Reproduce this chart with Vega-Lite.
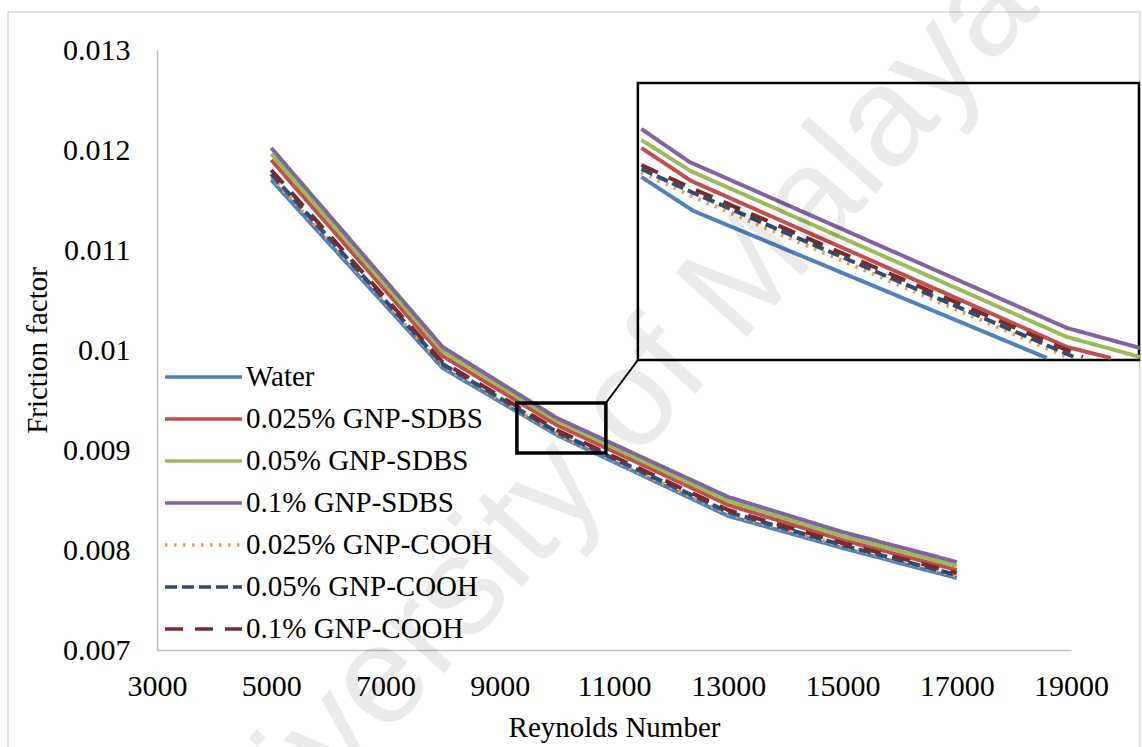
{
  "$schema": "https://vega.github.io/schema/vega-lite/v6.json",
  "width": 914,
  "height": 600,
  "autosize": {"type": "none"},
  "padding": {"left": 157, "top": 50, "right": 71, "bottom": 97},
  "background": "white",
  "config": {
    "view": {"stroke": null},
    "font": "Liberation Serif",
    "axis": {
      "grid": false, "ticks": false, "domainColor": "#bfbfbf", "domainWidth": 1.5, "labelFlush": false,
      "labelFont": "Liberation Serif", "labelFontSize": 30, "labelColor": "black",
      "titleFont": "Liberation Serif", "titleFontSize": 29, "titleFontWeight": "normal", "titleColor": "black"
    },
    "axisX": {"labelPadding": 21, "titlePadding": 12},
    "axisY": {"labelPadding": 27, "titlePadding": 10}
  },
  "datasets": {
    "main": [
      {"series": "Water", "Re": 5000, "f": 0.0117},
      {"series": "Water", "Re": 8000, "f": 0.00982},
      {"series": "Water", "Re": 10000, "f": 0.00915},
      {"series": "Water", "Re": 13000, "f": 0.00834},
      {"series": "Water", "Re": 15000, "f": 0.00802},
      {"series": "Water", "Re": 17000, "f": 0.00772},
      {"series": "0.025% GNP-SDBS", "Re": 5000, "f": 0.0119},
      {"series": "0.025% GNP-SDBS", "Re": 8000, "f": 0.00994},
      {"series": "0.025% GNP-SDBS", "Re": 10000, "f": 0.00925},
      {"series": "0.025% GNP-SDBS", "Re": 13000, "f": 0.00845},
      {"series": "0.025% GNP-SDBS", "Re": 15000, "f": 0.0081},
      {"series": "0.025% GNP-SDBS", "Re": 17000, "f": 0.0078},
      {"series": "0.05% GNP-SDBS", "Re": 5000, "f": 0.01196},
      {"series": "0.05% GNP-SDBS", "Re": 8000, "f": 0.00999},
      {"series": "0.05% GNP-SDBS", "Re": 10000, "f": 0.00929},
      {"series": "0.05% GNP-SDBS", "Re": 13000, "f": 0.00849},
      {"series": "0.05% GNP-SDBS", "Re": 15000, "f": 0.00814},
      {"series": "0.05% GNP-SDBS", "Re": 17000, "f": 0.00784},
      {"series": "0.1% GNP-SDBS", "Re": 5000, "f": 0.01202},
      {"series": "0.1% GNP-SDBS", "Re": 8000, "f": 0.01003},
      {"series": "0.1% GNP-SDBS", "Re": 10000, "f": 0.00932},
      {"series": "0.1% GNP-SDBS", "Re": 13000, "f": 0.00853},
      {"series": "0.1% GNP-SDBS", "Re": 15000, "f": 0.00818},
      {"series": "0.1% GNP-SDBS", "Re": 17000, "f": 0.00788},
      {"series": "0.025% GNP-COOH", "Re": 5000, "f": 0.01173},
      {"series": "0.025% GNP-COOH", "Re": 8000, "f": 0.00984},
      {"series": "0.025% GNP-COOH", "Re": 10000, "f": 0.00916},
      {"series": "0.025% GNP-COOH", "Re": 13000, "f": 0.00836},
      {"series": "0.025% GNP-COOH", "Re": 15000, "f": 0.00804},
      {"series": "0.025% GNP-COOH", "Re": 17000, "f": 0.00774},
      {"series": "0.05% GNP-COOH", "Re": 5000, "f": 0.01176},
      {"series": "0.05% GNP-COOH", "Re": 8000, "f": 0.00986},
      {"series": "0.05% GNP-COOH", "Re": 10000, "f": 0.00918},
      {"series": "0.05% GNP-COOH", "Re": 13000, "f": 0.00838},
      {"series": "0.05% GNP-COOH", "Re": 15000, "f": 0.00805},
      {"series": "0.05% GNP-COOH", "Re": 17000, "f": 0.00775},
      {"series": "0.1% GNP-COOH", "Re": 5000, "f": 0.0118},
      {"series": "0.1% GNP-COOH", "Re": 8000, "f": 0.00988},
      {"series": "0.1% GNP-COOH", "Re": 10000, "f": 0.0092},
      {"series": "0.1% GNP-COOH", "Re": 13000, "f": 0.0084},
      {"series": "0.1% GNP-COOH", "Re": 15000, "f": 0.00807},
      {"series": "0.1% GNP-COOH", "Re": 17000, "f": 0.00777}
    ],
    "inset": [
      {"series": "Water", "Re": 9842, "f": 0.009446},
      {"series": "Water", "Re": 10013, "f": 0.009378},
      {"series": "Water", "Re": 11173, "f": 0.009084},
      {"series": "0.025% GNP-SDBS", "Re": 9842, "f": 0.009504},
      {"series": "0.025% GNP-SDBS", "Re": 10006, "f": 0.009438},
      {"series": "0.025% GNP-SDBS", "Re": 11239, "f": 0.009106},
      {"series": "0.025% GNP-SDBS", "Re": 11383, "f": 0.009084},
      {"series": "0.05% GNP-SDBS", "Re": 9842, "f": 0.00952},
      {"series": "0.05% GNP-SDBS", "Re": 10003, "f": 0.009458},
      {"series": "0.05% GNP-SDBS", "Re": 11239, "f": 0.009126},
      {"series": "0.05% GNP-SDBS", "Re": 11479, "f": 0.009086},
      {"series": "0.1% GNP-SDBS", "Re": 9842, "f": 0.009542},
      {"series": "0.1% GNP-SDBS", "Re": 10000, "f": 0.009476},
      {"series": "0.1% GNP-SDBS", "Re": 11239, "f": 0.009144},
      {"series": "0.1% GNP-SDBS", "Re": 11479, "f": 0.009104},
      {"series": "0.025% GNP-COOH", "Re": 9842, "f": 0.009456},
      {"series": "0.025% GNP-COOH", "Re": 10013, "f": 0.009406},
      {"series": "0.025% GNP-COOH", "Re": 11239, "f": 0.009086},
      {"series": "0.05% GNP-COOH", "Re": 9842, "f": 0.009462},
      {"series": "0.05% GNP-COOH", "Re": 10013, "f": 0.009414},
      {"series": "0.05% GNP-COOH", "Re": 11262, "f": 0.009086},
      {"series": "0.1% GNP-COOH", "Re": 9842, "f": 0.00947},
      {"series": "0.1% GNP-COOH", "Re": 10013, "f": 0.009422},
      {"series": "0.1% GNP-COOH", "Re": 11291, "f": 0.009086}
    ]
  },
  "layer": [
    {
      "layer": [
        {
          "data": {"values": [{}]},
          "mark": {"type": "rect", "fill": "transparent", "stroke": "#d9d9d9", "strokeWidth": 1.5, "clip": false},
          "encoding": {
            "x": {"datum": 392, "type": "quantitative", "scale": {"domain": [3000, 19000], "nice": false, "zero": false},
              "axis": {"values": [3000, 5000, 7000, 9000, 11000, 13000, 15000, 17000, 19000], "format": "d", "title": "Reynolds Number"}},
            "x2": {"datum": 20203},
            "y": {"datum": 0.006, "type": "quantitative", "scale": {"domain": [0.007, 0.013], "nice": false, "zero": false},
              "axis": {"values": [0.007, 0.008, 0.009, 0.01, 0.011, 0.012, 0.013], "format": ".3~f", "title": "Friction factor"}},
            "y2": {"datum": 0.01338}
          }
        },
        {
          "data": {"name": "main"},
          "mark": {"type": "line", "strokeWidth": 4, "strokeCap": "butt", "clip": false},
          "encoding": {
            "x": {"field": "Re", "type": "quantitative", "scale": {"domain": [3000, 19000], "nice": false, "zero": false},
              "axis": {"values": [3000, 5000, 7000, 9000, 11000, 13000, 15000, 17000, 19000], "format": "d", "title": "Reynolds Number"}},
            "y": {"field": "f", "type": "quantitative", "scale": {"domain": [0.007, 0.013], "nice": false, "zero": false},
              "axis": {"values": [0.007, 0.008, 0.009, 0.01, 0.011, 0.012, 0.013], "format": ".3~f", "title": "Friction factor"}},
            "color": {
              "field": "series", "type": "nominal",
              "scale": {
                "domain": ["Water", "0.025% GNP-SDBS", "0.05% GNP-SDBS", "0.1% GNP-SDBS", "0.025% GNP-COOH", "0.05% GNP-COOH", "0.1% GNP-COOH"],
                "range": ["#4F81BD", "#C0504D", "#9BBB59", "#8064A2", "#F79646", "#2C4D75", "#772C2A"]
              },
              "legend": {
                "orient": "none", "legendX": 6, "legendY": 312, "title": null,
                "symbolType": "stroke", "symbolSize": 5929, "symbolStrokeWidth": 3.5,
                "labelFont": "Liberation Serif", "labelFontSize": 29, "labelColor": "black",
                "labelOffset": 2, "clipHeight": 30, "rowPadding": 12, "padding": 0, "labelLimit": 500
              }
            },
            "strokeDash": {
              "field": "series", "type": "nominal",
              "scale": {
                "domain": ["Water", "0.025% GNP-SDBS", "0.05% GNP-SDBS", "0.1% GNP-SDBS", "0.025% GNP-COOH", "0.05% GNP-COOH", "0.1% GNP-COOH"],
                "range": [[1, 0], [1, 0], [1, 0], [1, 0], [2.5, 6.5], [12, 5], [18, 12]]
              },
              "legend": {
                "orient": "none", "legendX": 6, "legendY": 312, "title": null,
                "symbolType": "stroke", "symbolSize": 5929, "symbolStrokeWidth": 3.5,
                "labelFont": "Liberation Serif", "labelFontSize": 29, "labelColor": "black",
                "labelOffset": 2, "clipHeight": 30, "rowPadding": 12, "padding": 0, "labelLimit": 500
              }
            },
            "order": {"field": "Re"}
          }
        },
        {
          "data": {"values": [{}]},
          "mark": {"type": "rect", "fill": "transparent", "stroke": "black", "strokeWidth": 3.5, "clip": false},
          "encoding": {
            "x": {"datum": 9300, "type": "quantitative", "scale": {"domain": [3000, 19000], "nice": false, "zero": false},
              "axis": {"values": [3000, 5000, 7000, 9000, 11000, 13000, 15000, 17000, 19000], "format": "d", "title": "Reynolds Number"}},
            "x2": {"datum": 10858},
            "y": {"datum": 0.00897, "type": "quantitative", "scale": {"domain": [0.007, 0.013], "nice": false, "zero": false},
              "axis": {"values": [0.007, 0.008, 0.009, 0.01, 0.011, 0.012, 0.013], "format": ".3~f", "title": "Friction factor"}},
            "y2": {"datum": 0.00947}
          }
        },
        {
          "data": {"values": [{}]},
          "mark": {"type": "rule", "stroke": "black", "strokeWidth": 2, "clip": false},
          "encoding": {
            "x": {"datum": 10858, "type": "quantitative", "scale": {"domain": [3000, 19000], "nice": false, "zero": false},
              "axis": {"values": [3000, 5000, 7000, 9000, 11000, 13000, 15000, 17000, 19000], "format": "d", "title": "Reynolds Number"}},
            "x2": {"datum": 11418},
            "y": {"datum": 0.00947, "type": "quantitative", "scale": {"domain": [0.007, 0.013], "nice": false, "zero": false},
              "axis": {"values": [0.007, 0.008, 0.009, 0.01, 0.011, 0.012, 0.013], "format": ".3~f", "title": "Friction factor"}},
            "y2": {"datum": 0.0099}
          }
        },
        {
          "data": {"values": [{}]},
          "mark": {"type": "rect", "fill": "white", "stroke": "black", "strokeWidth": 2.5, "clip": false},
          "encoding": {
            "x": {"datum": 11418, "type": "quantitative", "scale": {"domain": [3000, 19000], "nice": false, "zero": false},
              "axis": {"values": [3000, 5000, 7000, 9000, 11000, 13000, 15000, 17000, 19000], "format": "d", "title": "Reynolds Number"}},
            "x2": {"datum": 20190},
            "y": {"datum": 0.0099, "type": "quantitative", "scale": {"domain": [0.007, 0.013], "nice": false, "zero": false},
              "axis": {"values": [0.007, 0.008, 0.009, 0.01, 0.011, 0.012, 0.013], "format": ".3~f", "title": "Friction factor"}},
            "y2": {"datum": 0.01267}
          }
        }
      ]
    },
    {
      "layer": [
        {
          "data": {"name": "inset"},
          "mark": {"type": "line", "strokeWidth": 4, "strokeCap": "butt", "clip": false},
          "encoding": {
            "x": {"field": "Re", "type": "quantitative", "scale": {"domain": [8252, 11252], "nice": false, "zero": false}, "axis": null},
            "y": {"field": "f", "type": "quantitative", "scale": {"domain": [0.0085, 0.0097], "nice": false, "zero": false}, "axis": null},
            "color": {"field": "series", "type": "nominal", "legend": null},
            "strokeDash": {"field": "series", "type": "nominal", "legend": null},
            "order": {"field": "Re"}
          }
        },
        {
          "data": {"values": [{"label": "University of Malaya"}]},
          "mark": {"type": "text", "font": "Liberation Sans", "fontSize": 140, "angle": -48, "align": "center", "baseline": "middle", "fill": "#000000", "opacity": 0.08, "clip": false},
          "encoding": {
            "x": {"datum": 9668, "type": "quantitative", "scale": {"domain": [8252, 11252], "nice": false, "zero": false}, "axis": null},
            "y": {"datum": 0.0089, "type": "quantitative", "scale": {"domain": [0.0085, 0.0097], "nice": false, "zero": false}, "axis": null},
            "text": {"field": "label"}
          }
        }
      ]
    }
  ],
  "resolve": {"scale": {"x": "independent", "y": "independent"}}
}
